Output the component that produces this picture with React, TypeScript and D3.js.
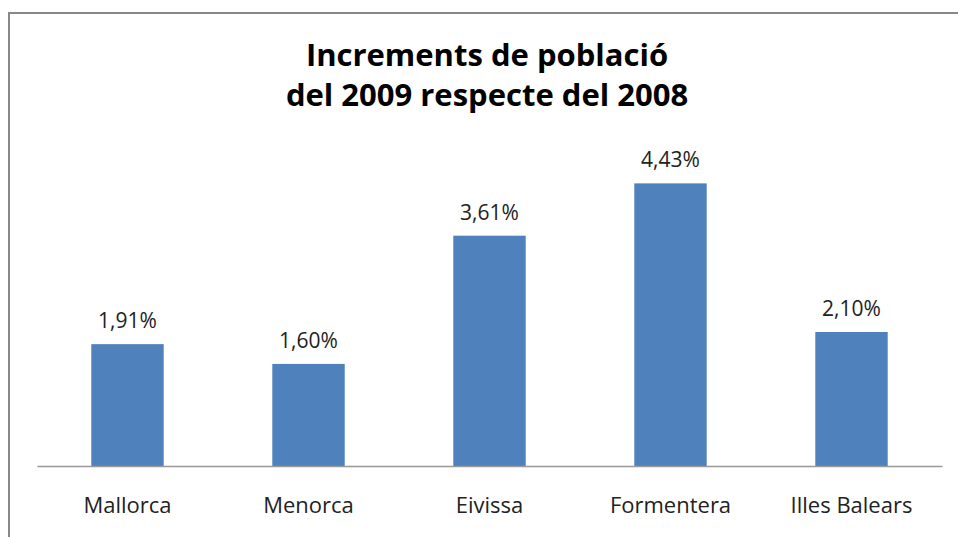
import React, { useEffect, useRef } from 'react';
import * as d3 from 'd3';

const categories = ['Mallorca', 'Menorca', 'Eivissa', 'Formentera', 'Illes Balears'];
const values = [1.91, 1.6, 3.61, 4.43, 2.1];
const titleLines = ['Increments de població', 'del 2009 respecte del 2008'];

const fmt = (v: number) => v.toFixed(2).replace('.', ',') + '%';

export default function App() {
  const ref = useRef<SVGSVGElement>(null);

  useEffect(() => {
    const width = 958;
    const height = 537;
    const margin = { top: 147, right: 16, bottom: 71, left: 37 };
    const font = '"Open Sans", "DejaVu Sans", sans-serif';

    const svg = d3.select(ref.current);
    svg.selectAll('*').remove();

    svg.append('rect')
      .attr('width', width)
      .attr('height', height)
      .attr('fill', '#fff');

    // chart frame (cropped at right/bottom)
    svg.append('path')
      .attr('d', `M9,${height + 2} V13 H${width + 2}`)
      .attr('fill', 'none')
      .attr('stroke', '#888')
      .attr('stroke-width', 2);

    svg.append('g')
      .selectAll('text')
      .data(titleLines)
      .join('text')
      .attr('x', 487)
      .attr('y', (d, i) => 66 + i * 40)
      .attr('text-anchor', 'middle')
      .attr('font-family', font)
      .attr('font-weight', 'bold')
      .attr('font-size', 31)
      .attr('fill', '#000')
      .text(d => d);

    const x = d3.scaleBand()
      .domain(categories)
      .range([margin.left, width - margin.right])
      .paddingInner(0.6)
      .paddingOuter(0.3);

    const y = d3.scaleLinear()
      .domain([0, 5])
      .range([height - margin.bottom, margin.top]);

    svg.append('g')
      .attr('fill', '#4f81bd')
      .selectAll('rect')
      .data(values)
      .join('rect')
      .attr('x', (d, i) => x(categories[i]) as number)
      .attr('y', d => y(d))
      .attr('width', x.bandwidth())
      .attr('height', d => y(0) - y(d));

    svg.append('g')
      .selectAll('text')
      .data(values)
      .join('text')
      .attr('x', (d, i) => (x(categories[i]) as number) + x.bandwidth() / 2)
      .attr('y', d => y(d) - 16)
      .attr('text-anchor', 'middle')
      .attr('font-family', font)
      .attr('font-size', 21)
      .attr('fill', '#222')
      .text(d => fmt(d));

    const xAxis = svg.append('g')
      .attr('transform', `translate(0,${y(0)})`)
      .call(d3.axisBottom(x).tickSize(0).tickPadding(31));
    xAxis.select('.domain').attr('stroke', '#999').attr('stroke-width', 1.5);
    xAxis.selectAll('text')
      .attr('font-family', font)
      .attr('font-size', 22)
      .attr('fill', '#222');
  }, []);

  return <svg ref={ref} width={958} height={537} style={{ display: 'block', position: 'absolute', left: 0, top: 0 }} />;
}
